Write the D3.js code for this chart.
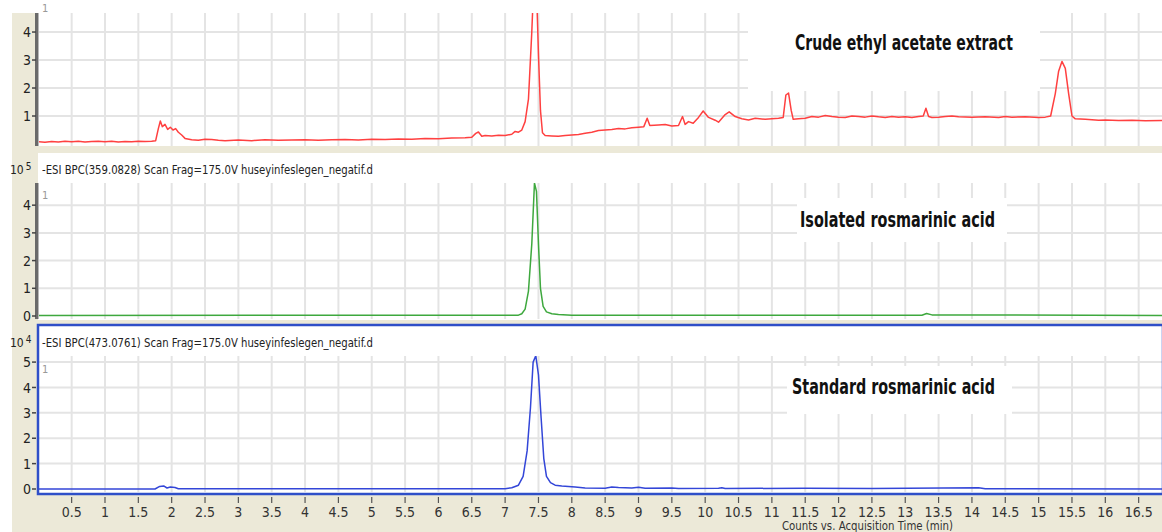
<!DOCTYPE html>
<html>
<head>
<meta charset="utf-8">
<script src="https://cdn.jsdelivr.net/npm/d3@7/dist/d3.min.js"></script>
<style>
  html, body { margin: 0; padding: 0; background: #fff; }
  svg { display: block; }
</style>
</head>
<body>
<svg id="chart" width="1162" height="532"></svg>
<script>
// ---------------- DATA ----------------
const xTicks = [0.5,1,1.5,2,2.5,3,3.5,4,4.5,5,5.5,6,6.5,7,7.5,8,8.5,9,9.5,10,10.5,11,11.5,12,12.5,13,13.5,14,14.5,15,15.5,16,16.5];
const xTickLabels = ["0.5","1","1.5","2","2.5","3","3.5","4","4.5","5","5.5","6","6.5","7","7.5","8","8.5","9","9.5","10","10.5","11","11.5","12","12.5","13","13.5","14","14.5","15","15.5","16","16.5"];
const crudeYTicks = [1,2,3,4];
const isolatedYTicks = [0,1,2,3,4];
const standardYTicks = [0,1,2,3,4,5];
const panelLabels = ["Crude ethyl acetate extract", "Isolated rosmarinic acid", "Standard rosmarinic acid"];
const headerTexts = [null, "-ESI BPC(359.0828) Scan Frag=175.0V huseyinfeslegen_negatif.d", "-ESI BPC(473.0761) Scan Frag=175.0V huseyinfeslegen_negatif.d"];
const exponents = [null, "5", "4"];
const xAxisTitle = "Counts vs. Acquisition Time (min)";

// [time (min), counts]
const crudeTrace = [
 [0.0,0.08],[0.1,0.06],[0.2,0.09],[0.3,0.07],[0.4,0.10],[0.5,0.08],[0.6,0.10],[0.7,0.07],[0.8,0.09],[0.9,0.10],
 [1.0,0.08],[1.1,0.10],[1.2,0.07],[1.3,0.09],[1.4,0.08],[1.5,0.10],[1.6,0.09],[1.7,0.10],[1.76,0.12],[1.8,0.55],
 [1.83,0.82],[1.86,0.62],[1.9,0.70],[1.94,0.52],[1.98,0.60],[2.02,0.50],[2.06,0.55],[2.1,0.42],[2.15,0.32],[2.2,0.20],
 [2.3,0.15],[2.4,0.13],[2.5,0.17],[2.6,0.16],[2.7,0.13],[2.8,0.12],[3.0,0.14],[3.2,0.12],[3.4,0.15],[3.6,0.13],
 [3.8,0.14],[4.0,0.15],[4.2,0.13],[4.4,0.15],[4.6,0.16],[4.8,0.14],[5.0,0.17],[5.2,0.16],[5.4,0.18],[5.6,0.17],
 [5.8,0.20],[6.0,0.19],[6.2,0.21],[6.4,0.22],[6.5,0.24],[6.56,0.38],[6.6,0.43],[6.65,0.28],[6.7,0.30],[6.8,0.29],
 [6.9,0.31],[7.0,0.30],[7.1,0.35],[7.15,0.45],[7.2,0.42],[7.25,0.50],[7.3,0.80],[7.35,1.6],[7.4,4.0],[7.43,5.8],
 [7.47,5.6],[7.5,3.2],[7.53,1.2],[7.56,0.40],[7.6,0.30],[7.7,0.29],[7.8,0.28],[7.9,0.30],[8.0,0.32],[8.1,0.34],
 [8.2,0.38],[8.3,0.42],[8.4,0.48],[8.5,0.50],[8.6,0.52],[8.7,0.55],[8.8,0.54],[8.9,0.58],[9.0,0.60],[9.08,0.62],
 [9.13,0.92],[9.17,0.66],[9.3,0.68],[9.4,0.70],[9.5,0.64],[9.6,0.66],[9.66,0.98],[9.7,0.70],[9.75,0.80],[9.82,0.74],
 [9.9,0.95],[9.97,1.18],[10.05,0.95],[10.15,0.85],[10.2,0.78],[10.3,1.05],[10.36,1.15],[10.45,0.98],[10.55,0.90],[10.65,0.86],
 [10.75,0.92],[10.9,0.88],[11.0,0.90],[11.1,0.92],[11.17,0.95],[11.21,1.75],[11.25,1.82],[11.29,1.2],[11.32,0.88],[11.4,0.90],
 [11.5,0.92],[11.6,0.98],[11.7,0.96],[11.8,1.02],[11.9,0.98],[12.0,0.96],[12.1,0.95],[12.2,1.00],[12.3,0.98],[12.4,0.96],
 [12.5,1.00],[12.6,0.97],[12.7,0.95],[12.8,0.98],[12.9,0.96],[13.0,0.97],[13.1,0.95],[13.2,0.98],[13.27,1.00],[13.31,1.28],
 [13.35,0.98],[13.4,0.95],[13.5,0.96],[13.6,0.98],[13.7,1.00],[13.8,0.97],[14.0,0.96],[14.2,0.97],[14.4,0.95],[14.5,0.98],
 [14.6,0.96],[14.8,0.97],[15.0,0.95],[15.1,0.96],[15.18,1.00],[15.25,1.8],[15.3,2.6],[15.35,2.95],[15.4,2.7],[15.45,1.8],
 [15.5,1.0],[15.55,0.90],[15.7,0.88],[15.8,0.87],[15.9,0.85],[16.0,0.86],[16.2,0.84],[16.4,0.85],[16.6,0.83],[16.85,0.84]
];
const isolatedTrace = [
 [0.0,0.02],[7.2,0.03],[7.25,0.08],[7.3,0.25],[7.35,0.9],[7.4,2.6],[7.44,4.8],[7.47,4.5],[7.5,2.6],[7.53,1.0],
 [7.57,0.35],[7.62,0.15],[7.7,0.08],[7.8,0.05],[8.0,0.03],[13.25,0.03],[13.32,0.09],[13.4,0.04],[16.85,0.02]
];
const standardTrace = [
 [0.0,0.0],[1.75,0.0],[1.82,0.10],[1.88,0.12],[1.93,0.04],[1.98,0.08],[2.05,0.06],[2.1,0.01],[7.0,0.01],[7.1,0.05],
 [7.2,0.15],[7.27,0.5],[7.33,1.5],[7.38,3.2],[7.42,5.0],[7.46,5.25],[7.5,4.5],[7.54,2.8],[7.58,1.2],[7.62,0.5],
 [7.68,0.25],[7.75,0.15],[7.85,0.12],[7.95,0.10],[8.05,0.08],[8.2,0.04],[8.5,0.03],[8.6,0.08],[8.7,0.06],[8.9,0.04],
 [9.0,0.07],[9.1,0.03],[9.5,0.04],[9.6,0.02],[10.2,0.03],[10.25,0.05],[10.3,0.02],[11.5,0.03],[12.5,0.02],[14.1,0.05],
 [14.2,0.01],[16.85,0.0]
];

// ---------------- LAYOUT ----------------
const W = 1162, H = 532;
const svg = d3.select("#chart");
const BEIGE = "#ECE9D8";
const GRID = "#e4e4e4";
const NARROW = "'Liberation Sans Narrow', 'DejaVu Sans Condensed', Arial, sans-serif";
const LABELFONT = "'Liberation Sans Narrow', 'DejaVu Sans Condensed', sans-serif";

const x = d3.scaleLinear().domain([0, 16.85]).range([38.3, 1162]);

svg.append("rect").attr("x",0).attr("y",0).attr("width",W).attr("height",H).attr("fill","#fff");
svg.append("rect").attr("x",12).attr("y",13).attr("width",W-12).attr("height",H-13).attr("fill",BEIGE);

const panels = [
  { bgTop:0, bgBottom:146, plotTop:13, plotBottom:146, zeroY:144, yMax:4.68, ticks:crudeYTicks, trace:crudeTrace, color:"#ff4040",
    box:[748,13,292,78], labelX:795, labelY:50, labelLen:218, headerY:null, oneY:8 },
  { bgTop:153, bgBottom:320, plotTop:183, plotBottom:319, zeroY:316, yMax:4.8, ticks:isolatedYTicks, trace:isolatedTrace, color:"#3ea83e",
    box:[797,198,210,44], labelX:800, labelY:227, labelLen:195, headerY:174, oneY:195 },
  { bgTop:325, bgBottom:494, plotTop:356, plotBottom:492, zeroY:489, yMax:5.24, ticks:standardYTicks, trace:standardTrace, color:"#3346d8",
    box:[787,366,225,48], labelX:792, labelY:394, labelLen:203, headerY:347, oneY:369 }
];

panels.forEach((p, i) => {
  const y = d3.scaleLinear().domain([0, p.yMax]).range([p.zeroY, p.plotTop]);
  const g = svg.append("g");
  g.append("rect").attr("x",38).attr("y",p.bgTop).attr("width",W-38).attr("height",p.bgBottom-p.bgTop).attr("fill","#fff");

  g.append("g").selectAll("line").data(xTicks).join("line")
    .attr("x1",d=>x(d)).attr("x2",d=>x(d)).attr("y1",p.plotTop).attr("y2",p.plotBottom)
    .attr("stroke",GRID).attr("stroke-width",2);
  g.append("g").selectAll("line").data(p.ticks.filter(t=>t>0)).join("line")
    .attr("x1",39).attr("x2",W).attr("y1",d=>y(d)).attr("y2",d=>y(d))
    .attr("stroke",GRID).attr("stroke-width",2);

  if (p.headerY !== null) {
    g.append("text").attr("x",42).attr("y",p.headerY).text(headerTexts[i])
      .attr("font-family",NARROW).attr("font-size",13).attr("fill","#222")
      .attr("textLength",331).attr("lengthAdjust","spacingAndGlyphs");
    const e = g.append("text").attr("x",10).attr("y",p.headerY).attr("font-family",NARROW).attr("font-size",12).attr("fill","#222");
    e.append("tspan").text("10");
    e.append("tspan").attr("dx",2).attr("dy",-4).attr("font-size",10).text(exponents[i]);
  }

  g.append("rect").attr("x",p.box[0]).attr("y",p.box[1]).attr("width",p.box[2]).attr("height",p.box[3]).attr("fill","#fff");
  g.append("text").attr("x",p.labelX).attr("y",p.labelY).text(panelLabels[i])
    .attr("font-family",LABELFONT).attr("font-weight","bold").attr("font-size",22).attr("fill","#111")
    .attr("textLength",p.labelLen).attr("lengthAdjust","spacingAndGlyphs");

  const clipId = "clip"+i;
  svg.append("clipPath").attr("id",clipId).append("rect")
    .attr("x",39).attr("y",p.plotTop).attr("width",W-39).attr("height",p.plotBottom-p.plotTop);
  const line = d3.line().x(d=>x(d[0])).y(d=>y(d[1]));
  g.append("path").datum(p.trace).attr("d",line).attr("fill","none")
    .attr("stroke",p.color).attr("stroke-width",1.5).attr("stroke-linejoin","round")
    .attr("clip-path",`url(#${clipId})`);

  g.append("text").attr("x",42).attr("y",p.oneY+4).text("1")
    .attr("font-family",NARROW).attr("font-size",11).attr("fill","#999");

  if (i < 2) {
    g.append("line").attr("x1",36.5).attr("x2",36.5).attr("y1",p.plotTop).attr("y2",p.plotBottom)
      .attr("stroke","#6a6a6a").attr("stroke-width",3);
    g.append("line").attr("x1",38.5).attr("x2",38.5).attr("y1",p.plotTop).attr("y2",p.plotBottom)
      .attr("stroke","#b8b8b8").attr("stroke-width",1);
  }
  const yt = g.append("g");
  yt.selectAll("line").data(p.ticks).join("line")
    .attr("x1",32).attr("x2",36).attr("y1",d=>y(d)).attr("y2",d=>y(d))
    .attr("stroke","#444").attr("stroke-width",1.5);
  yt.selectAll("text").data(p.ticks).join("text")
    .attr("x",31).attr("y",d=>y(d)).attr("dy","0.36em").attr("text-anchor","end")
    .attr("font-family",NARROW).attr("font-size",14).attr("fill","#222").text(d=>d);
});

svg.append("rect").attr("x",38).attr("y",325).attr("width",W-37).attr("height",169)
  .attr("fill","none").attr("stroke","#2f4fc8").attr("stroke-width",2.5);

const xg = svg.append("g");
xg.selectAll("line").data(xTicks).join("line")
  .attr("x1",d=>x(d)).attr("x2",d=>x(d)).attr("y1",497).attr("y2",503)
  .attr("stroke","#555").attr("stroke-width",1.2);
xg.selectAll("text").data(xTicks).join("text")
  .attr("x",d=>x(d)).attr("y",517).attr("text-anchor","middle")
  .attr("font-family",NARROW).attr("font-size",14).attr("fill","#333")
  .text((d,i)=>xTickLabels[i]);

svg.append("text").attr("x",782).attr("y",530).text(xAxisTitle)
  .attr("font-family",NARROW).attr("font-size",12).attr("fill","#333")
  .attr("textLength",171).attr("lengthAdjust","spacingAndGlyphs");
</script>
</body>
</html>
